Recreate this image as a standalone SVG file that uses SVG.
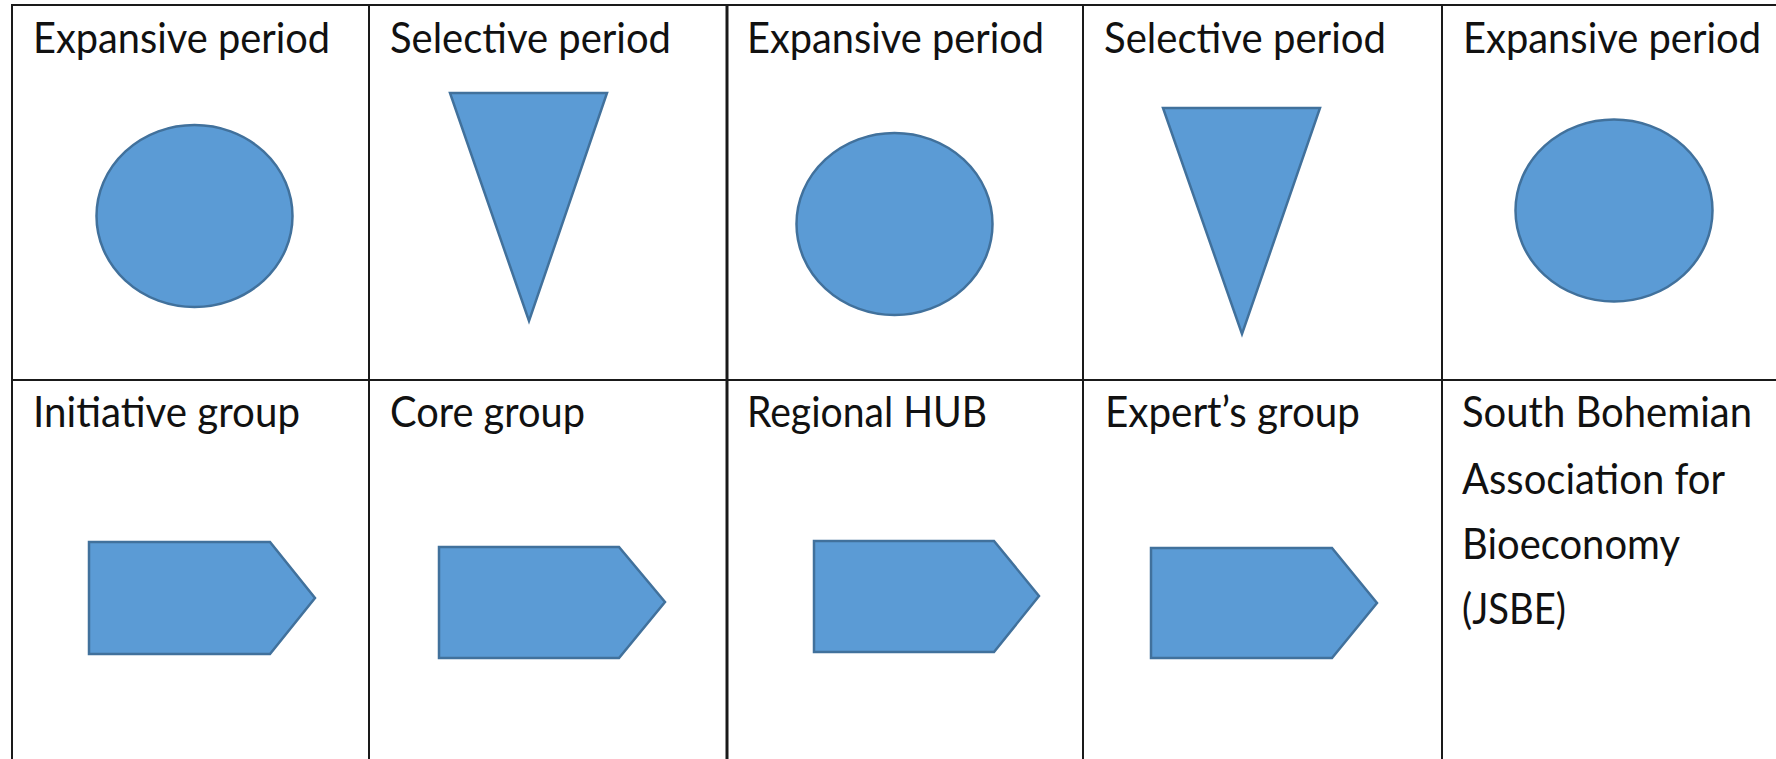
<svg xmlns="http://www.w3.org/2000/svg" width="1776" height="759" viewBox="0 0 1776 759">
<style>
.grid{stroke:#1a1a1a;stroke-width:2;fill:none}
.thick{stroke-width:3}
.shape{fill:#5B9BD5;stroke:#41719C;stroke-width:2.5;stroke-linejoin:miter}
.lbl{font-family:Lato,"Open Sans","Liberation Sans",sans-serif;font-size:43px;fill:#111}
</style>
<rect width="1776" height="759" fill="#fff"/>
<g id="grid">
<line class="grid" x1="12" y1="5" x2="1776" y2="5"/>
<line class="grid" x1="12" y1="380" x2="1776" y2="380"/>
<line class="grid" x1="12" y1="4" x2="12" y2="759"/>
<line class="grid" x1="369" y1="4" x2="369" y2="759"/>
<line class="grid thick" x1="727" y1="4" x2="727" y2="759"/>
<line class="grid" x1="1083" y1="4" x2="1083" y2="759"/>
<line class="grid" x1="1442" y1="4" x2="1442" y2="759"/>
</g>
<g id="cell-r1c1">
<text class="lbl" x="33" y="53" textLength="297" lengthAdjust="spacingAndGlyphs">Expansive period</text>
<ellipse class="shape" cx="194.5" cy="216" rx="98" ry="91"/>
</g>
<g id="cell-r1c2">
<text class="lbl" x="390" y="53" textLength="281" lengthAdjust="spacingAndGlyphs">Selective period</text>
<polygon class="shape" points="450,93 607,93 529,321"/>
</g>
<g id="cell-r1c3">
<text class="lbl" x="747" y="53" textLength="297" lengthAdjust="spacingAndGlyphs">Expansive period</text>
<ellipse class="shape" cx="894.5" cy="224" rx="98" ry="91"/>
</g>
<g id="cell-r1c4">
<text class="lbl" x="1104" y="53" textLength="282" lengthAdjust="spacingAndGlyphs">Selective period</text>
<polygon class="shape" points="1163,108 1320,108 1242,334"/>
</g>
<g id="cell-r1c5">
<text class="lbl" x="1463" y="53" textLength="298" lengthAdjust="spacingAndGlyphs">Expansive period</text>
<ellipse class="shape" cx="1614" cy="210.5" rx="98.5" ry="91"/>
</g>
<g id="cell-r2c1">
<text class="lbl" x="33" y="427" textLength="267" lengthAdjust="spacingAndGlyphs">Initiative group</text>
<polygon class="shape" points="89,542 270,542 315,598 270,654 89,654"/>
</g>
<g id="cell-r2c2">
<text class="lbl" x="390" y="427" textLength="195" lengthAdjust="spacingAndGlyphs">Core group</text>
<polygon class="shape" points="439,547 619,547 665,602 619,658 439,658"/>
</g>
<g id="cell-r2c3">
<text class="lbl" x="747" y="427" textLength="240" lengthAdjust="spacingAndGlyphs">Regional HUB</text>
<polygon class="shape" points="814,541 994,541 1039,596 994,652 814,652"/>
</g>
<g id="cell-r2c4">
<text class="lbl" x="1105" y="427" textLength="255" lengthAdjust="spacingAndGlyphs">Expert’s group</text>
<polygon class="shape" points="1151,548 1332,548 1377,603 1332,658 1151,658"/>
</g>
<g id="cell-r2c5">
<text class="lbl" x="1462" y="427" textLength="290" lengthAdjust="spacingAndGlyphs">South Bohemian</text>
<text class="lbl" x="1462" y="494" textLength="263" lengthAdjust="spacingAndGlyphs">Association for</text>
<text class="lbl" x="1462" y="559" textLength="218" lengthAdjust="spacingAndGlyphs">Bioeconomy</text>
<text class="lbl" x="1462" y="624" textLength="104" lengthAdjust="spacingAndGlyphs">(JSBE)</text>
</g>
</svg>
